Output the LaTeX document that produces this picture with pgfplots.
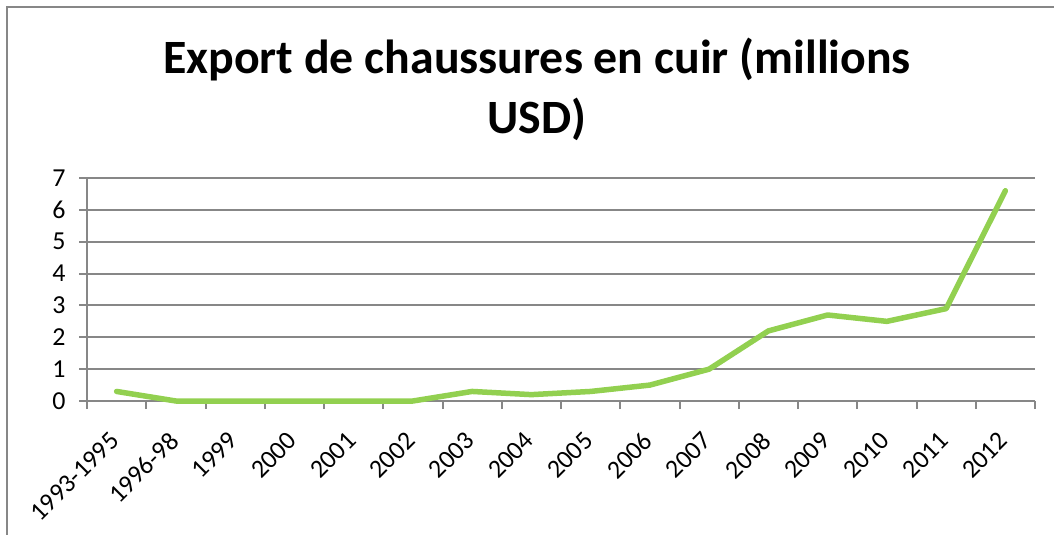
\documentclass[border=0pt]{standalone}
\usepackage{pgfplots}
\pgfplotsset{compat=1.18}
\usepackage{fontspec}
\setmainfont{Carlito}
\definecolor{linegreen}{HTML}{92D050}
\definecolor{gridgray}{HTML}{878787}
\begin{document}
\begin{tikzpicture}
\useasboundingbox (0,0) rectangle (1054bp,-535bp);
\draw[gridgray, line width=2bp] (7bp,-540bp) -- (7bp,-7bp) -- (1060bp,-7bp);
\node[anchor=base, font=\bfseries\fontsize{48}{56}\selectfont] at (537bp,-73bp) {Export de chaussures en cuir (millions};
\node[anchor=base, font=\bfseries\fontsize{48}{56}\selectfont] at (537bp,-133bp) {USD)};
\begin{axis}[
  at={(87bp,-401bp)}, anchor=south west,
  scale only axis, width=948bp, height=223bp,
  xmin=-0.5, xmax=15.5, ymin=0, ymax=7,
  axis x line*=bottom, axis y line*=left,
  axis line style={gridgray, line width=2bp, -},
  ytick={0,1,...,7},
  ymajorgrids, grid style={gridgray, line width=2bp},
  xtick={0,1,...,15},
  xticklabels={1993-1995,1996-98,1999,2000,2001,2002,2003,2004,2005,2006,2007,2008,2009,2010,2011,2012},
  minor xtick={-0.5,0.5,...,15.5},
  major x tick style={draw=none},
  minor x tick style={gridgray, line width=2bp},
  y tick style={gridgray, line width=2bp},
  tick align=outside,
  major tick length=8bp, minor tick length=8bp,
  /pgf/number format/assume math mode=true,
  tick label style={font=\fontsize{26}{28}\selectfont, black},
  x tick label style={xshift=-8bp, yshift=-20bp, rotate=45, anchor=north east, inner sep=1bp},
  y tick label style={xshift=-10bp},
  clip=false,
]
\addplot[linegreen, line width=5.5bp, line join=round, line cap=round] coordinates {
(0,0.3) (1,0) (2,0) (3,0) (4,0) (5,0) (6,0.3) (7,0.2) (8,0.3) (9,0.5) (10,1.0) (11,2.2) (12,2.7) (13,2.5) (14,2.9) (15,6.6)
};
\end{axis}
\end{tikzpicture}
\end{document}
